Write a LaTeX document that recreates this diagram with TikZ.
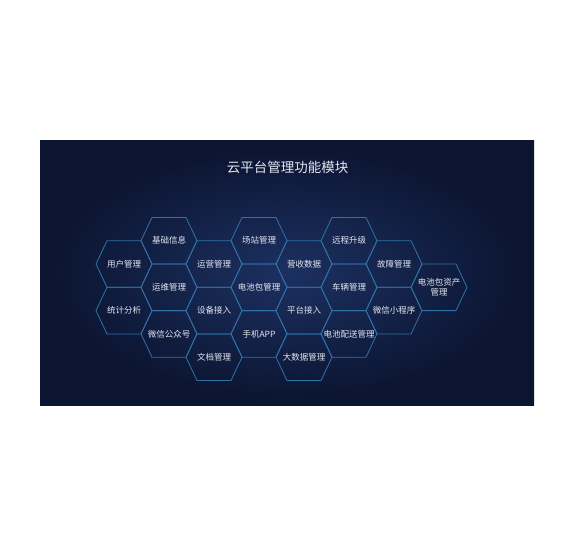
\documentclass[tikz,border=0pt]{standalone}
\usepackage{fontspec}
\newfontfamily\cjk{Noto Sans CJK SC}
\definecolor{hexc}{HTML}{2F72A8}
\definecolor{labc}{HTML}{E2E6EF}
\definecolor{bginner}{HTML}{1C3060}
\definecolor{bgouter}{HTML}{0B1430}
\begin{document}
\begin{tikzpicture}[x=1pt,y=1pt,
  hexedge/.style={draw=hexc, line width=0.8pt, line join=miter},
  hexlabel/.style={text=labc, font=\cjk\fontsize{8.5}{10.5}\selectfont, align=center, inner sep=0pt},
  titlelabel/.style={text=labc, font=\cjk\fontsize{13.5}{16}\selectfont, inner sep=0pt}]
\useasboundingbox[fill=white] (0,0) rectangle (580,-540);
\shade[inner color=bginner, outer color=bgouter] (40,-141) rectangle (534,-405);
\node[titlelabel] (title) at (287.5,-167) {云平台管理功能模块};
\foreach \x/\y/\t/\n in {
  124/264/用户管理/h11, 124/310.6/统计分析/h12,
  169/240.7/基础信息/h21, 169/287.3/运维管理/h22, 169/333.9/微信公众号/h23,
  214/264/运营管理/h31, 214/310.6/设备接入/h32, 214/357.2/文档管理/h33,
  259/240.7/场站管理/h41, 259/287.3/电池包管理/h42, 259/333.9/手机APP/h43,
  304/264/营收数据/h51, 304/310.6/平台接入/h52, 304/357.2/大数据管理/h53,
  349/240.7/远程升级/h61, 349/287.3/车辆管理/h62, 349/333.9/电池配送管理/h63,
  394/264/故障管理/h71, 394/310.6/微信小程序/h72}{
  \draw[hexedge] (\x-28,-\y) -- (\x-17,-\y+23.3) -- (\x+17,-\y+23.3) -- (\x+28,-\y) -- (\x+17,-\y-23.3) -- (\x-17,-\y-23.3) -- cycle;
  \node[hexlabel] (\n) at (\x,-\y) {\t};
}
\draw[hexedge] (411,-287.3) -- (422,-264) -- (456,-264) -- (467,-287.3) -- (456,-310.6) -- (422,-310.6) -- cycle;
\node[hexlabel] (h81) at (439,-287.3) {电池包资产\\管理};
\end{tikzpicture}
\end{document}
